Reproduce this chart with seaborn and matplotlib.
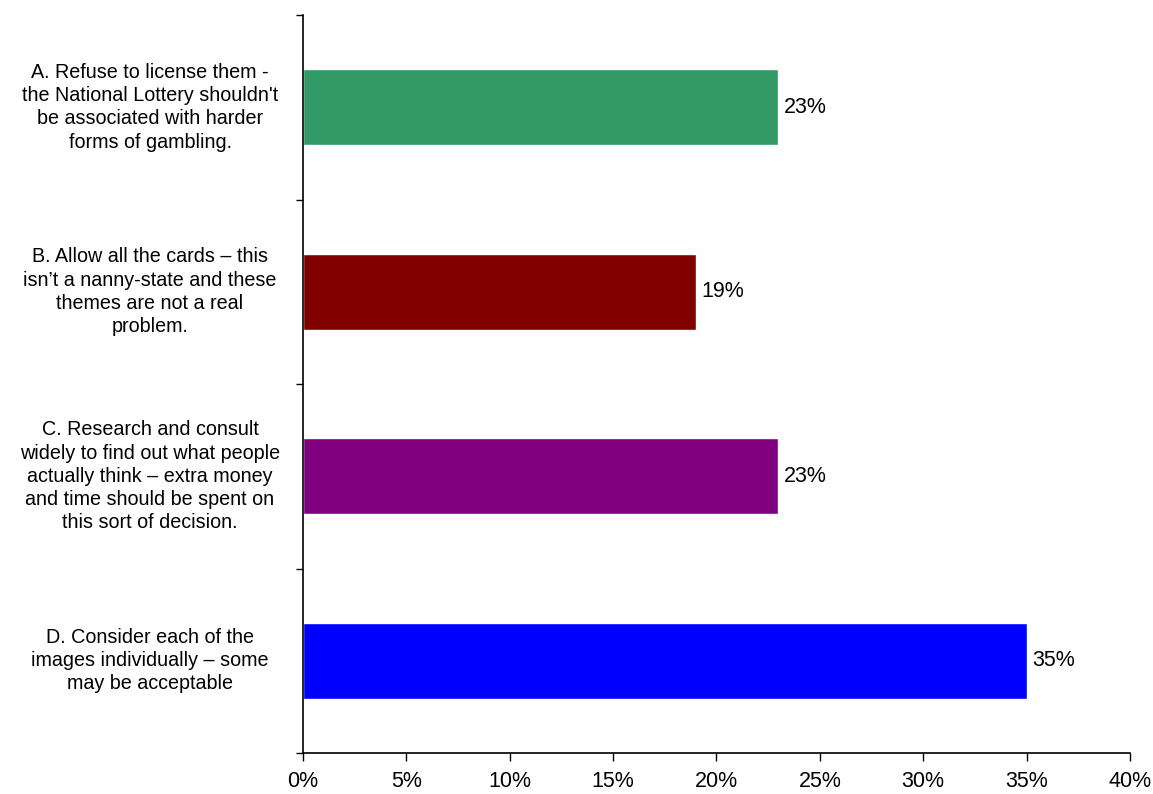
import matplotlib
matplotlib.use("Agg")
import matplotlib.pyplot as plt
import seaborn as sns
import pandas as pd

# data
categories = [
    "A. Refuse to license them -\nthe National Lottery shouldn't\nbe associated with harder\nforms of gambling.",
    "B. Allow all the cards \u2013 this\nisn\u2019t a nanny-state and these\nthemes are not a real\nproblem.",
    "C. Research and consult\nwidely to find out what people\nactually think \u2013 extra money\nand time should be spent on\nthis sort of decision.",
    "D. Consider each of the\nimages individually \u2013 some\nmay be acceptable",
]
values = [23, 19, 23, 35]
colors = ["#339966", "#800000", "#800080", "#0000FF"]
x_ticks = [0, 5, 10, 15, 20, 25, 30, 35, 40]

df = pd.DataFrame({"option": categories, "pct": values})

sns.set_style("white")
plt.rcParams["font.family"] = ["Liberation Sans", "DejaVu Sans"]
plt.rcParams["text.color"] = "black"
plt.rcParams["xtick.color"] = "black"
plt.rcParams["ytick.color"] = "black"

fig = plt.figure(figsize=(11.53, 7.94), dpi=100)
ax = fig.add_axes([0.2628, 0.0516, 0.7172, 0.9295])

sns.barplot(data=df, x="pct", y="option", hue="option", palette=colors,
            width=0.41, legend=False, ax=ax, saturation=1)

ax.set_xlim(0, 40)
ax.set_ylim(3.5, -0.5)
ax.set_xticks(x_ticks)
ax.set_xticklabels([f"{t}%" for t in x_ticks], fontsize=15.5, color="black")
ax.set_xlabel("")
ax.set_ylabel("")

# y ticks at category boundaries, labels drawn separately
ax.set_yticks([])
ax.set_yticks([-0.5, 0.5, 1.5, 2.5, 3.5], minor=True)
ax.tick_params(axis="y", which="minor", left=True, length=5, width=1, color="black", direction="out")
ax.tick_params(axis="x", bottom=True, length=6, width=1, color="black", direction="out", pad=7)

for i, lab in enumerate(categories):
    ax.text(-0.185, i, lab, transform=ax.get_yaxis_transform(), ha="center", va="center",
            multialignment="center", fontsize=14.2, linespacing=1.28, color="black")

for c in ax.containers:
    ax.bar_label(c, labels=[f"{v:.0f}%" for v in c.datavalues], padding=4, fontsize=15.5, color="black")

sns.despine(ax=ax, top=True, right=True)
for s in ["left", "bottom"]:
    ax.spines[s].set_color("black")
    ax.spines[s].set_linewidth(1.2)

fig.savefig("out.png", dpi=100)
